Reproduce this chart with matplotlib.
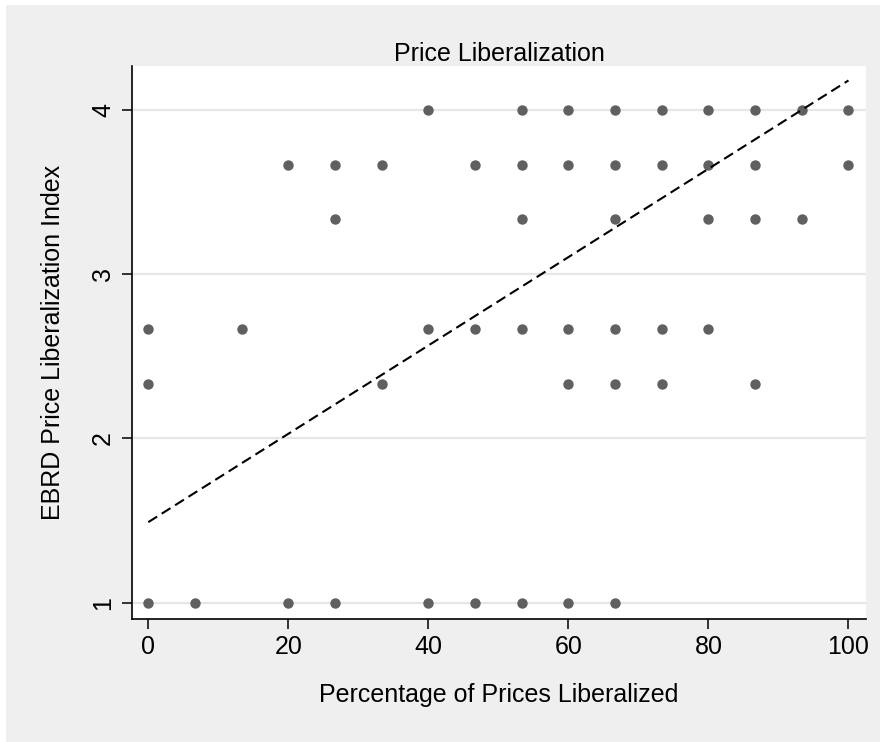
import matplotlib
matplotlib.use("Agg")
import matplotlib.pyplot as plt
from matplotlib.patches import Rectangle

plt.rcParams['font.family'] = ['Liberation Sans', 'DejaVu Sans']

# Data: (percentage liberalized, EBRD index) pairs
y_levels = [4.0, 11/3, 10/3, 8/3, 7/3, 1.0]
x_at_level = [
    [40, 160/3, 60, 200/3, 220/3, 80, 260/3, 280/3, 100],
    [20, 80/3, 100/3, 140/3, 160/3, 60, 200/3, 220/3, 80, 260/3, 100],
    [80/3, 160/3, 200/3, 80, 260/3, 280/3],
    [0, 40/3, 40, 140/3, 160/3, 60, 200/3, 220/3, 80],
    [0, 100/3, 60, 200/3, 220/3, 260/3],
    [0, 20/3, 20, 80/3, 40, 140/3, 160/3, 60, 200/3],
]
fit_intercept = 1.49
fit_slope = 0.0269
fit_x = [0, 100]

x_ticks = [0, 20, 40, 60, 80, 100]
y_ticks = [1, 2, 3, 4]

W, H = 880, 742
fig = plt.figure(figsize=(W/100, H/100), dpi=100, facecolor='white')
bg = Rectangle((6/W, 0), 1 - 6/W, 1 - 5/H, transform=fig.transFigure,
               facecolor='#efefef', edgecolor='none', zorder=-10)
fig.add_artist(bg)

L, R, T, B = 132, 866, 66, 619
ax = fig.add_axes([L/W, 1 - B/H, (R-L)/W, (B-T)/H])
ax.set_zorder(1)
ax.set_facecolor('white')

xs, ys = [], []
for yl, xl in zip(y_levels, x_at_level):
    for xv in xl:
        xs.append(xv); ys.append(yl)
ax.plot(xs, ys, linestyle='none', marker='o', markersize=7.5, color='#606060',
        markeredgewidth=0, zorder=3)

fy = [fit_intercept + fit_slope * v for v in fit_x]
ax.plot(fit_x, fy, color='black', linestyle=(0, (5.0, 2.6)), linewidth=1.5, zorder=4)

ax.set_xlim(-2.33, 102.5)
ax.set_ylim(0.90, 4.268)
ax.set_xticks(x_ticks)
ax.set_yticks(y_ticks)
ax.set_xticklabels([str(v) for v in x_ticks], fontsize=18)
ax.set_yticklabels([str(v) for v in y_ticks], fontsize=18, rotation=90, va='center')
ax.tick_params(axis='both', direction='out', length=7.2, width=1.1, color='black')
ax.tick_params(axis='x', pad=4.5)
ax.tick_params(axis='y', pad=5)
ax.yaxis.grid(True, color='#e6e6e6', linewidth=1.6, zorder=1)
ax.set_axisbelow(True)
for s in ['top', 'right']:
    ax.spines[s].set_visible(False)
for s in ['left', 'bottom']:
    ax.spines[s].set_linewidth(1.2)

ax.set_title('Price Liberalization', fontsize=18, pad=3)
ax.set_xlabel('Percentage of Prices Liberalized', fontsize=18, labelpad=17)
ax.set_ylabel('EBRD Price Liberalization Index', fontsize=18, labelpad=19)

fig.savefig('out.png', dpi=100, facecolor=fig.get_facecolor())
